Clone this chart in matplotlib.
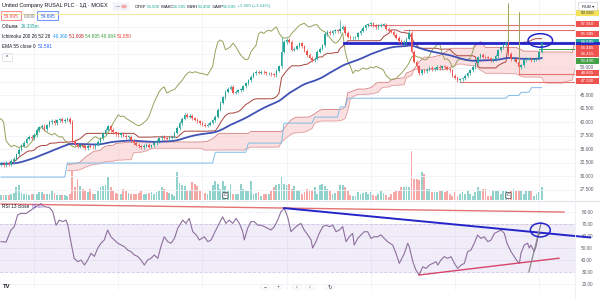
import numpy as np
import pandas as pd
import matplotlib
matplotlib.use('Agg')
import matplotlib.pyplot as plt
from matplotlib.patches import Ellipse, Rectangle, FancyBboxPatch

plt.rcParams['font.family'] = ['Liberation Sans', 'DejaVu Sans']

W, H = 600, 299

# ---- daily bars, RUSAL (MOEX) ----
closes = [32.3, 32.0, 32.5, 32.2, 32.8, 33.2, 34.0, 34.9, 35.6, 36.2,
          36.9, 37.3, 37.0, 37.6, 38.5, 39.0, 39.3, 38.7, 39.4, 40.0,
          40.2, 39.8, 40.3, 40.5, 40.1, 40.4, 40.6, 40.0, 36.5, 35.9,
          35.4, 35.7, 35.5, 35.2, 35.6, 35.4, 35.3, 35.8, 36.3, 37.0,
          37.9, 38.6, 39.2, 38.5, 38.1, 37.8, 37.6, 37.9, 37.5, 37.2,
          37.3, 36.6, 36.1, 35.8, 35.5, 35.3, 35.6, 35.8, 35.4, 35.7,
          36.1, 36.5, 37.0, 37.3, 37.0, 36.8, 37.1, 37.3, 38.0, 38.9,
          39.8, 40.6, 41.3, 41.0, 41.1, 40.7, 40.4, 40.1, 39.8, 39.5,
          39.3, 39.5, 39.9, 40.3, 41.0, 42.3, 43.6, 44.6, 45.6, 46.2,
          46.5, 45.4, 45.6, 45.9, 46.0, 46.6, 47.2, 47.7, 48.4, 49.0,
          49.3, 49.1, 49.3, 49.2, 49.0, 49.0, 48.8, 48.7, 49.5, 50.3,
          53.0, 54.8, 55.2, 54.9, 53.4, 53.6, 54.0, 54.6, 54.0, 53.2,
          52.4, 51.9, 51.5, 51.7, 53.0, 53.6, 54.2, 56.3, 56.7, 56.4,
          56.8, 57.0, 56.8, 57.3, 57.6, 56.5, 55.8, 55.5, 55.6, 55.7,
          56.4, 56.9, 57.4, 57.9, 58.1, 58.3, 57.8, 57.6, 57.8, 58.0,
          58.0, 57.3, 56.9, 56.7, 56.2, 55.6, 55.0, 54.6, 54.8, 55.4,
          56.5, 53.0, 51.2, 50.3, 49.0, 49.6, 49.4, 49.7, 50.0, 49.8,
          49.9, 50.2, 50.0, 50.3, 50.1, 49.9, 49.6, 48.6, 48.2, 47.8,
          47.9, 48.1, 48.6, 49.0, 49.6, 50.2, 50.9, 52.0, 52.4, 52.1,
          52.0, 51.8, 51.5, 51.6, 52.2, 53.3, 53.8, 54.3, 54.6, 52.6,
          51.6, 51.7, 51.2, 50.1, 50.5, 51.4, 51.7, 51.8, 51.4, 51.6,
          51.8, 53.0, 54.695]
first_open = 32.1

# volume, millions
volumes = [10, 10, 11, 10, 12, 14, 26, 30, 14, 12,
           12, 11, 13, 12, 12, 16, 17, 12, 12, 13,
           18, 14, 10, 11, 10, 10, 9, 12, 58, 26,
           42, 28, 22, 20, 16, 22, 12, 12, 18, 26,
           28, 30, 46, 26, 18, 14, 12, 12, 22, 18,
           14, 12, 12, 12, 14, 18, 12, 12, 14, 16,
           12, 16, 18, 26, 22, 16, 14, 12, 8, 56,
           34, 30, 28, 18, 20, 36, 32, 28, 18, 18,
           14, 12, 18, 30, 38, 32, 22, 38, 28, 18,
           32, 12, 12, 12, 32, 22, 18, 18, 38, 12,
           14, 16, 8, 12, 12, 12, 18, 26, 30, 32,
           46, 32, 30, 32, 22, 28, 20, 18, 12, 16,
           22, 18, 18, 26, 12, 30, 32, 28, 22, 18,
           12, 14, 18, 30, 30, 26, 18, 10, 8, 8,
           16, 12, 14, 16, 12, 16, 10, 8, 12, 18,
           14, 10, 6, 12, 16, 18, 18, 26, 26, 28,
           26, 98, 42, 42, 40, 56, 52, 22, 22, 16,
           16, 16, 18, 18, 16, 18, 12, 8, 16, 8,
           12, 16, 12, 18, 12, 8, 16, 26, 18, 22,
           22, 8, 8, 18, 18, 18, 12, 18, 18, 16,
           18, 22, 18, 18, 18, 12, 18, 18, 18, 8,
           12, 16, 26.335]

extra_high_bars = [110, 133, 160, 199, 203]
extra_high_vals = [55.7, 58.9, 57.2, 62.0, 60.3]
extra_low_bars = [179, 203]
extra_low_vals = [47.33, 48.865]
spike_bars = [199, 203]

# Ichimoku conversion line (200-bar midpoint, history not in view)
conv_from = [0, 26, 84, 97, 111, 123, 133, 136, 199, 204, 208]
conv_vals = [29.8, 32.4, 34.4, 36.1, 39.8, 40.9, 42.8, 44.4, 44.9, 45.5, 46.36]

# RSI 13
rsi_at = [0, 2.0, 3.9, 5.2, 6.5, 7.8, 9.8, 11.8, 13.7, 15.7,
          17.0, 18.9, 20.3, 21.6, 22.9, 24.2, 25.5, 26.2, 27.5, 28.7,
          30.1, 31.4, 32.7, 34.0, 35.3, 36.6, 37.9, 39.2, 40.5, 41.8,
          43.1, 44.4, 45.8, 47.1, 48.4, 49.7, 51.0, 52.3, 53.6, 54.9,
          56.2, 57.5, 58.8, 60.1, 61.5, 62.7, 64.0, 65.4, 66.7, 68.0,
          69.3, 71.3, 72.5, 73.8, 75.2, 76.5, 77.8, 79.7, 81.1, 82.4,
          83.6, 85.6, 86.9, 88.2, 89.5, 90.9, 92.2, 93.5, 94.8, 95.4,
          96.7, 98.0, 99.3, 100.7, 102.0, 103.3, 104.6, 105.9, 107.2, 108.5,
          109.8, 111.1, 112.4, 113.7, 115.0, 116.4, 117.6, 118.9, 120.3, 121.6,
          122.2, 123.5, 124.8, 126.2, 127.5, 128.7, 130.1, 131.4, 132.7, 134.0,
          135.3, 136.6, 137.9, 138.5, 139.9, 141.2, 142.5, 143.8, 145.1, 146.4,
          147.7, 149.0, 150.3, 151.6, 153.6, 154.9, 156.2, 158.2, 159.5, 160.1,
          161.5, 162.7, 164.0, 165.4, 166.7, 168.0, 169.3, 170.6, 171.3, 172.5,
          173.8, 175.2, 176.5, 177.8, 179.1, 180.4, 181.7, 183.0, 184.3, 185.6,
          186.9, 188.2, 189.5, 190.9, 192.2, 193.5, 194.8, 196.1, 197.4, 198.4,
          200.0, 201.3, 202.6, 203.3, 203.9, 205.2, 206.5, 207.2, 207.8, 209.1,
          209.8, 210.7, 212.0]
rsi_vals = [55.3, 55.0, 65.0, 67.8, 77.5, 79.0, 78.7, 81.7, 84.4, 87.0,
            84.4, 83.9, 80.3, 69.0, 73.3, 72.0, 73.3, 69.0, 54.0, 41.4,
            38.6, 40.0, 35.8, 40.0, 45.6, 43.0, 49.7, 54.0, 56.7, 65.0,
            59.4, 56.7, 54.0, 52.5, 51.1, 48.3, 46.9, 44.2, 43.0, 40.0,
            35.8, 40.0, 41.4, 44.2, 41.4, 51.1, 59.4, 55.3, 54.0, 58.0,
            66.4, 73.3, 70.5, 74.7, 63.6, 61.0, 56.7, 59.4, 55.3, 56.7,
            62.2, 70.5, 76.0, 70.5, 73.3, 70.5, 74.7, 70.5, 63.6, 56.7,
            66.4, 72.0, 72.0, 69.0, 69.0, 67.8, 66.4, 65.0, 67.8, 73.3,
            80.3, 83.0, 76.0, 63.6, 66.4, 69.0, 70.5, 65.0, 61.0, 56.7,
            50.0, 55.3, 62.2, 67.8, 69.0, 67.8, 69.0, 63.6, 65.0, 67.8,
            55.3, 59.4, 62.2, 52.5, 58.0, 61.0, 63.6, 63.6, 58.0, 59.4,
            59.4, 61.0, 58.0, 55.3, 52.5, 45.6, 37.2, 45.6, 54.0, 51.1,
            38.6, 31.7, 27.5, 34.4, 33.0, 35.8, 37.2, 38.6, 35.8, 40.0,
            42.8, 41.4, 42.8, 37.2, 33.0, 35.8, 37.2, 46.9, 48.3, 54.0,
            60.8, 58.0, 59.4, 55.3, 56.7, 62.2, 63.6, 65.0, 62.2, 54.0,
            47.0, 42.8, 38.6, 37.2, 45.6, 52.5, 54.0, 50.0, 52.5, 47.0,
            51.1, 60.8, 63.08]

# user drawings on the price pane
hline_levels = [59.91, 57.91, 56.985, 48.865, 47.33]
hline_from = [0, 144, 158, 203, 180]
blue_level = 54.63
blue_from = 134.5

# user drawings on the RSI pane: (bar, value) ends
rsi_red_top = ([0, 220.8], [86.7, 80.0])
rsi_blue = ([111, 231], [83.3, 58.8])
rsi_red_low = ([163.9, 218.8], [27.5, 41.5])
rsi_gray = ([207, 211.8], [30.0, 70.8])

axis_ticks = [50.0, 45.0, 42.5, 40.0, 37.5, 35.0, 32.5, 30.0, 27.5]
rsi_ticks = [80, 70, 60, 50, 40, 30, 20]
tag_text = ['59.910', '57.910', '56.985', '54.695', '54.485', '54.415', '53.490', '48.865', '47.330']
tag_fc = ['#f5e25c', '#ef5350', '#ef5350', '#26a69a', '#ef5350', '#ef5350', '#43a047', '#ef5350', '#ef5350']
tag_tc = ['#333333', 'white', 'white', 'white', 'white', 'white', 'white', 'white', 'white']
tag_ypx = [13, 24, 34, 42, 48, 54, 61, 73, 81]

UP, DN = '#26a69a', '#ef5350'
WICK = 0.3

# ---- derived series ----
n = len(closes)
idx = np.arange(n)
c = np.array(closes)
o = np.r_[first_open, c[:-1]]
hi = np.maximum(o, c) + WICK
lo = np.minimum(o, c) - WICK
hi[extra_high_bars] = extra_high_vals
lo[extra_low_bars] = extra_low_vals
up = c >= o
cols = np.where(up, UP, DN)

hs, ls = pd.Series(hi), pd.Series(lo)
base = ((hs.rolling(26, min_periods=1).max() + ls.rolling(26, min_periods=1).min()) / 2).values
spanb = ((hs.rolling(52, min_periods=1).max() + ls.rolling(52, min_periods=1).min()) / 2).values
conv = np.array(conv_vals)[np.searchsorted(conv_from, idx, side='right') - 1]
spana = (conv + base) / 2
ema = pd.Series(c).ewm(span=55, adjust=False).mean().values

fig = plt.figure(figsize=(W / 100, H / 100), dpi=100)
fig.patch.set_facecolor('white')
renderer = fig.canvas.get_renderer()


def frect(x0, y0, x1, y1):
    return [x0 / W, 1 - y1 / H, (x1 - x0) / W, (y1 - y0) / H]


XL = (-0.4, 225.1)
top_rect = frect(0, 0, 575, 200)
axv = fig.add_axes(top_rect)
ax = fig.add_axes(top_rect)
ax.patch.set_visible(False)
axr = fig.add_axes(frect(0, 201, 575, 290))
for a in (axv, ax, axr):
    a.set_xlim(*XL)
    a.set_xticks([])
    a.set_yticks([])
    for s in a.spines.values():
        s.set_visible(False)
ax.set_ylim(25.56, 62.59)
axv.set_ylim(0, 400)
axr.set_ylim(15.0, 89.2)

# grid
for p in axis_ticks + [52.5, 55.0, 57.5, 60.0, 47.5]:
    ax.axhline(p, color='#f0f3fa', lw=0.6, zorder=0)
for r in rsi_ticks:
    axr.axhline(r, color='#f0f3fa', lw=0.6, zorder=0)
for gx in [13, 46, 79, 112, 145, 178, 211]:
    ax.axvline(gx, color='#f0f3fa', lw=0.6, zorder=0)
    axr.axvline(gx, color='#f0f3fa', lw=0.6, zorder=0)

# volume
axv.bar(idx, volumes, width=0.72, color=cols, alpha=0.5, linewidth=0)

# ichimoku
xs = idx + 26
axv.set_zorder(0)
ax.set_zorder(1)
ax.fill_between(xs, spana, spanb, where=spanb >= spana, color='#f7c8c8', alpha=0.55, lw=0, interpolate=True, zorder=1)
ax.fill_between(xs, spana, spanb, where=spanb < spana, color='#bfe3c6', alpha=0.55, lw=0, interpolate=True, zorder=1)
ax.plot(xs, spana, color='#e4a1a1', lw=0.6, zorder=2)
ax.plot(xs, spanb, color='#d77b7b', lw=0.6, zorder=2)
ax.plot(idx, conv, color='#7fbde8', lw=0.7, zorder=2)
ax.plot(idx, base, color='#a8443d', lw=0.7, zorder=2)
ax.plot(idx - 26, c, color='#98a25c', lw=0.7, zorder=2)
ax.plot(idx, ema, color='#3f51b5', lw=1.3, zorder=3)

# user lines
for lev, x0 in zip(hline_levels, hline_from):
    clr = '#f3e9a6' if lev > 59 else '#e57373'
    ax.plot([x0, XL[1]], [lev, lev], color=clr, lw=0.8, zorder=2)
ax.plot([blue_from, 236], [blue_level, blue_level], color='#2424c8', lw=2.0, zorder=4, clip_on=False)
ax.plot([211, XL[1]], [53.49, 53.49], color='#43a047', lw=0.7, zorder=2)

# candles
ax.vlines(idx, lo, hi, colors=cols, lw=0.5, zorder=5)
ax.vlines(np.array(spike_bars), np.maximum(o, c)[spike_bars], hi[spike_bars], colors='#9aa35e', lw=0.7, zorder=5)
body = np.maximum(np.abs(c - o), 0.12)
ax.bar(idx, body, bottom=np.minimum(o, c), width=0.62, color=cols, linewidth=0, zorder=6)

ax.add_patch(Ellipse((211.5, 55.1), 9.6, 2.5, fill=False, ec='#2424c8', lw=1.1, zorder=7, clip_on=False))

# RSI pane
axr.axhspan(30, 70, color='#7e57c2', alpha=0.1, lw=0)
axr.axhline(70, color='#c9bfe0', lw=0.5, ls=(0, (4, 3)))
axr.axhline(30, color='#c9bfe0', lw=0.5, ls=(0, (4, 3)))
axr.axhline(50, color='#d8d0ea', lw=0.4, ls=(0, (1, 2)))
axr.plot(rsi_at, rsi_vals, color='#8e6f9e', lw=0.8, zorder=3)
axr.plot(*rsi_red_top, color='#e57373', lw=1.0, zorder=4)
axr.plot(*rsi_blue, color='#2424c8', lw=1.4, zorder=4, clip_on=False)
axr.plot(*rsi_red_low, color='#d9446b', lw=1.0, zorder=4)
axr.plot(*rsi_gray, color='#8a8a8a', lw=0.9, zorder=4)
axr.add_patch(Ellipse((211.5, 65.0), 7.8, 11.5, fill=False, ec='#2424c8', lw=1.1, zorder=5, clip_on=False))

# pane separator and price scale border
fig.add_artist(plt.Line2D([0, 1], [1 - 200.5 / H, 1 - 200.5 / H], color='#e0e3eb', lw=0.8))
fig.add_artist(plt.Line2D([575 / W, 575 / W], [0, 1], color='#eceef3', lw=0.6))

FS = 3.4
ty = ax.get_yaxis_transform()
for p in axis_ticks:
    ax.text(1.021, p, f'{p:.3f}', transform=ty, fontsize=FS, color='#5d606b', ha='center', va='center', clip_on=False)
tyr = axr.get_yaxis_transform()
for r in rsi_ticks:
    axr.text(1.021, r, f'{r:.2f}', transform=tyr, fontsize=FS, color='#5d606b', ha='center', va='center', clip_on=False)

for t, fc, tc, ypx in zip(tag_text, tag_fc, tag_tc, tag_ypx):
    fig.add_artist(Rectangle((576 / W, 1 - (ypx + 2.9) / H), 23 / W, 5.8 / H, transform=fig.transFigure, fc=fc, ec='none'))
    fig.text(587.5 / W, 1 - ypx / H, t, fontsize=3.2, color=tc, ha='center', va='center')

fig.add_artist(FancyBboxPatch((579 / W, 1 - 10 / H), 18 / W, 7 / H, boxstyle='round,pad=0.001', transform=fig.transFigure, fc='white', ec='#c8cbd3', lw=0.4))
fig.text(588 / W, 1 - 6.5 / H, 'RUB ▾', fontsize=3, color='#131722', ha='center', va='center')


def ftext(x, y, s, color='#131722', fs=3.4, **kw):
    return fig.text(x / W, 1 - y / H, s, fontsize=fs, color=color, va='center', **kw)


def run(x, y, pieces, fs=3.4, gap=0.0):
    # write coloured pieces one after another on one line
    for s, col in pieces:
        t = ftext(x, y, s, color=col, fs=fs)
        x += t.get_window_extent(renderer).width + gap


# legend
ftext(2, 6, 'United Company RUSAL PLC · 1Д · MOEX', fs=4.0)
fig.add_artist(FancyBboxPatch((114 / W, 1 - 10 / H), 14 / W, 7 / H, boxstyle='round,pad=0.002', transform=fig.transFigure, fc='#f0f3fa', ec='none'))
fig.add_artist(plt.Circle((124 / W, 1 - 6.5 / H), 2.2 / W, transform=fig.transFigure, color='#f7a9a9'))
ftext(116, 6.5, '—', fs=3)
G = '#131722'
run(135, 6.5, [('ОТКР', G), ('53.500', UP), (' МАКС', G), ('54.965', UP), (' МИН', G),
               ('53.400', UP), (' ЗАКР', G), ('54.695', UP), (' +1.665 (+3.14%)', UP)], fs=3.2)
for x0, x1, ec in [(2, 21, '#ef5350'), (38, 58, '#2962ff')]:
    fig.add_artist(FancyBboxPatch((x0 / W, 1 - 20 / H), (x1 - x0) / W, 8 / H, boxstyle='round,pad=0.001', transform=fig.transFigure, fc='white', ec=ec, lw=0.5))
ftext(11.5, 16, '54.695', color='#ef5350', ha='center')
ftext(29.5, 16, '0.000', color='#787b86', ha='center')
ftext(48, 16, '54.695', color='#2962ff', ha='center')
run(2, 26, [('Объем  ', G), ('26.335m', UP)])
run(2, 36, [('Ichimoku 200 26 52 26  ', G), ('46.360 ', '#2196f3'), ('51.608 ', '#b71c1c'),
            ('54.695 ', '#43a047'), ('48.984 ', '#43a047'), ('51.850', '#f44336')])
run(2, 46, [('EMA 55 close 0  ', G), ('51.591', '#2962ff')])
fig.add_artist(FancyBboxPatch((3 / W, 1 - 61 / H), 9 / W, 7 / H, boxstyle='round,pad=0.001', transform=fig.transFigure, fc='white', ec='#d1d4dc', lw=0.4))
ftext(7.5, 57.5, '^', fs=3.5, ha='center')
run(2, 206, [('RSI 13 close  ', G), ('63.08', '#7e57c2')])

# dividend markers on volume
for bx in [88, 199]:
    ax.text(bx, 26.4, 'C', fontsize=3, color='#131722', ha='center', va='center', zorder=8,
            bbox=dict(boxstyle='round,pad=0.25', fc='white', ec='#131722', lw=0.4))

# bottom widgets
ftext(3, 287, 'TV', fs=4.2, weight='bold')
for xp, s in zip([265, 278, 297, 310, 330], ['−', '+', '‹', '›', '↻']):
    fig.add_artist(plt.Circle((xp / W, 1 - 287 / H), 4.6 / W, transform=fig.transFigure, fc='white', ec='#e6e8ee', lw=0.4))
    ftext(xp, 287, s, fs=4, ha='center', color='#50535e')

fig.savefig('out.png', dpi=100, facecolor='white')
